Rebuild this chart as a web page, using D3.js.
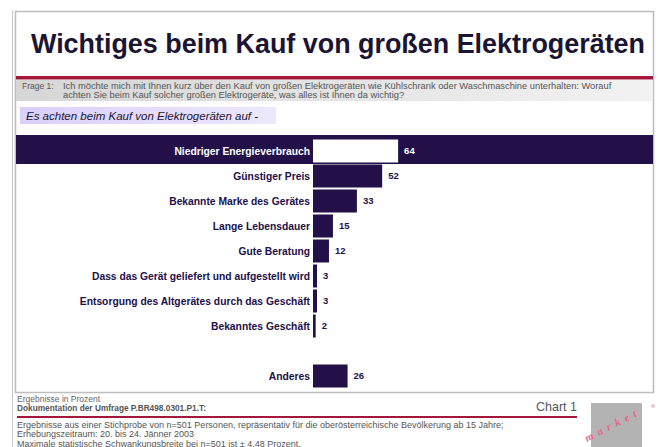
<!DOCTYPE html>
<html>
<head>
<meta charset="utf-8">
<script src="https://cdnjs.cloudflare.com/ajax/libs/d3/7.8.5/d3.min.js"></script>
<style>
  body { margin: 0; background: #fff; }
  svg { display: block; font-family: "Liberation Sans", Arial, sans-serif; }
</style>
</head>
<body>
<svg id="chart" width="660" height="447"></svg>
<script>
// data
var categories = [
  "Niedriger Energieverbrauch",
  "Günstiger Preis",
  "Bekannte Marke des Gerätes",
  "Lange Lebensdauer",
  "Gute Beratung",
  "Dass das Gerät geliefert und aufgestellt wird",
  "Entsorgung des Altgerätes durch das Geschäft",
  "Bekanntes Geschäft",
  "Anderes"
]
var values = [64, 52, 33, 15, 12, 3, 3, 2, 26]
var highlighted = "Niedriger Energieverbrauch"
var gapBefore = "Anderes"

var title = "Wichtiges beim Kauf von großen Elektrogeräten"
var question = ["Ich möchte mich mit Ihnen kurz über den Kauf von großen Elektrogeräten wie Kühlschrank oder Waschmaschine unterhalten: Worauf",
  "achten Sie beim Kauf solcher großen Elektrogeräte, was alles ist Ihnen da wichtig?"]
var subtitle = "Es achten beim Kauf von Elektrogeräten auf -"
var footnotes = ["Ergebnisse aus einer Stichprobe von n=501 Personen, repräsentativ für die oberösterreichische Bevölkerung ab 15 Jahre;",
  "Erhebungszeitraum: 20. bis 24. Jänner 2003",
  "Maximale statistische Schwankungsbreite bei n=501 ist ± 4,48 Prozent."]

var data = categories.map(function (c, i) { return { name: c, value: values[i] } })

var navy = "#231049", red = "#a3173a", grey = "#555"
var svg = d3.select("#chart")

var defs = svg.append("defs")
var g1 = defs.append("linearGradient").attr("id", "qband")
g1.append("stop").attr("offset", "0%").attr("stop-color", "#d6d6d6")
g1.append("stop").attr("offset", "100%").attr("stop-color", "#f2f2f2")
var g2 = defs.append("linearGradient").attr("id", "subband")
g2.append("stop").attr("offset", "0%").attr("stop-color", "#d9d0fa")
g2.append("stop").attr("offset", "100%").attr("stop-color", "#ece8fc")

// frame
svg.append("line").attr("x1", 12.5).attr("x2", 12.5).attr("y1", 10).attr("y2", 447)
  .attr("stroke", "#c8c8c8").attr("stroke-width", 1)
svg.append("rect").attr("x", 15.5).attr("y", 11.5).attr("width", 638).attr("height", 381)
  .attr("fill", "none").attr("stroke", "#bdbdbd").attr("stroke-width", 1.5)

// title
svg.append("text").attr("x", 31).attr("y", 53)
  .attr("font-size", 27).attr("font-weight", "bold").attr("fill", "#1c1433")
  .attr("textLength", 614).attr("lengthAdjust", "spacingAndGlyphs")
  .text(title)
svg.append("rect").attr("x", 16).attr("y", 76).attr("width", 637).attr("height", 3.5).attr("fill", red)

// question band
svg.append("rect").attr("x", 16).attr("y", 80).attr("width", 637).attr("height", 21).attr("fill", "url(#qband)")
svg.append("text").attr("x", 22).attr("y", 89).attr("font-size", 8.5).attr("fill", grey).text("Frage 1:")
svg.selectAll(".q").data(question).enter().append("text")
  .attr("x", 63).attr("y", function (d, i) { return 89 + i * 8.5 })
  .attr("font-size", 9.3).attr("fill", grey).text(function (d) { return d })

// subtitle box
svg.append("rect").attr("x", 20).attr("y", 107).attr("width", 256).attr("height", 17).attr("fill", "url(#subband)")
svg.append("text").attr("x", 26).attr("y", 119.5).attr("font-size", 11.5).attr("font-style", "italic")
  .attr("fill", "#1c1433").text(subtitle)

// scales
var domain = []
categories.forEach(function (c) {
  if (c == gapBefore) domain.push("__gap")
  domain.push(c)
})
var y = d3.scaleBand().domain(domain).range([138.5, 388.5]).paddingInner(0.08).paddingOuter(0.04)
var x = d3.scaleLinear().domain([0, 100]).range([313, 446])

// highlight band for first row
svg.append("rect").attr("x", 16).attr("width", 637)
  .attr("y", y(highlighted) - 4.5).attr("height", y.bandwidth() + 6).attr("fill", navy)

var rows = svg.append("g").selectAll("g").data(data).enter().append("g")
rows.append("rect")
  .attr("x", x(0))
  .attr("y", function (d) { return y(d.name) })
  .attr("width", function (d) { return x(d.value) - x(0) })
  .attr("height", y.bandwidth())
  .attr("fill", function (d) { return d.name == highlighted ? "#fff" : navy })
rows.append("text")
  .attr("x", x(0) - 3)
  .attr("y", function (d) { return y(d.name) + y.bandwidth() / 2 })
  .attr("dy", "0.35em").attr("text-anchor", "end")
  .attr("font-size", 10.3).attr("font-weight", "bold")
  .attr("fill", function (d) { return d.name == highlighted ? "#fff" : navy })
  .text(function (d) { return d.name })
rows.append("text")
  .attr("x", function (d) { return x(d.value) + 6 })
  .attr("y", function (d) { return y(d.name) + y.bandwidth() / 2 })
  .attr("dy", "0.35em")
  .attr("font-size", 9.5).attr("font-weight", "bold")
  .attr("fill", function (d) { return d.name == highlighted ? "#fff" : navy })
  .text(function (d) { return d.value })

// footer
svg.append("text").attr("x", 17).attr("y", 402).attr("font-size", 8.5).attr("fill", "#666").text("Ergebnisse in Prozent")
svg.append("text").attr("x", 17).attr("y", 411).attr("font-size", 8.3).attr("font-weight", "bold").attr("fill", "#555")
  .text("Dokumentation der Umfrage P.BR498.0301.P1.T:")
svg.append("text").attr("x", 577).attr("y", 411).attr("text-anchor", "end").attr("font-size", 12.5).attr("fill", grey).text("Chart 1")
svg.append("rect").attr("x", 17).attr("y", 416).attr("width", 560).attr("height", 2).attr("fill", red)
svg.selectAll(".fn").data(footnotes).enter().append("text")
  .attr("x", 17).attr("y", function (d, i) { return 428 + i * 9.3 })
  .attr("font-size", 9).attr("fill", grey).text(function (d) { return d })

// logo
svg.append("rect").attr("x", 591).attr("y", 403).attr("width", 51).attr("height", 44).attr("fill", "#b3b3b3")
svg.append("text").attr("transform", "translate(587,442) rotate(-27)")
  .attr("font-family", "'Liberation Serif', serif").attr("font-style", "italic").attr("font-weight", "bold")
  .attr("font-size", 11).attr("letter-spacing", 5).attr("fill", "#e8668a")
  .text("market")
svg.append("circle").attr("cx", 653).attr("cy", 406).attr("r", 1.3).attr("fill", "none").attr("stroke", "#e8668a").attr("stroke-width", 0.6)
</script>
</body>
</html>
